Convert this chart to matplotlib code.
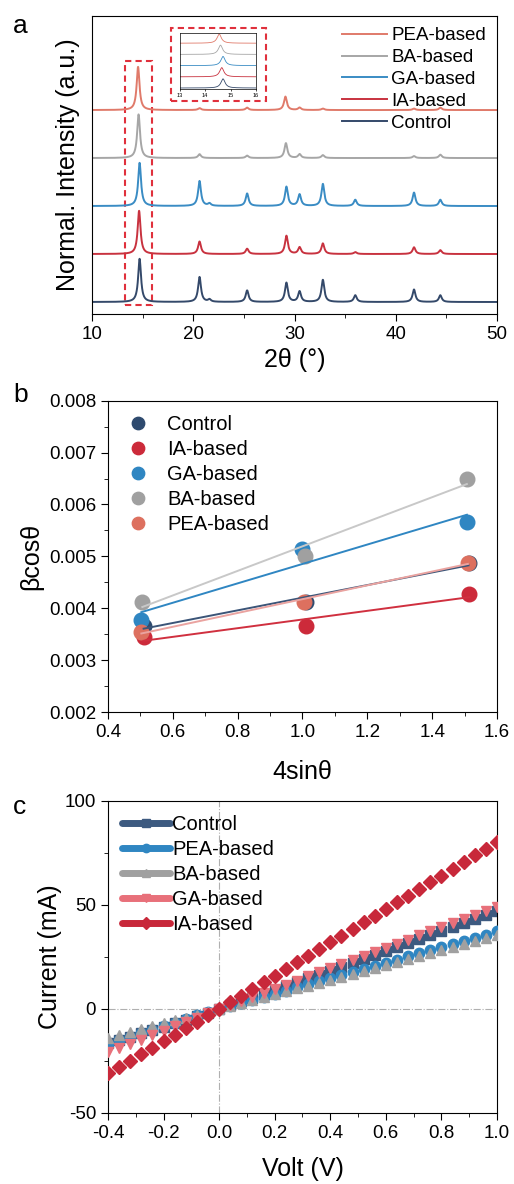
import numpy as np
import matplotlib
matplotlib.use('Agg')
import matplotlib.pyplot as plt
from matplotlib.lines import Line2D
from matplotlib.patches import Rectangle
from matplotlib.ticker import MultipleLocator, FormatStrFormatter

plt.rcParams['font.family'] = ['Liberation Sans', 'DejaVu Sans']

#------------------------------------------------------------------------
# Data
# (a) XRD: peak positions (deg) and heights (normalised) per sample
names_a = ['Control', 'IA-based', 'GA-based', 'BA-based', 'PEA-based']
colors_a = ['#34496a', '#c8323f', '#3a8cc4', '#a6a6a6', '#e07a6a']
peaks_control = [14.70, 20.62, 21.60, 25.32, 29.20, 30.50, 32.80, 36.00, 41.80, 44.40]
hgt_control   = [0.90, 0.52, 0.05, 0.24, 0.40, 0.22, 0.46, 0.14, 0.26, 0.14]
peaks_ia      = [14.65, 20.62, 25.32, 29.20, 30.50, 32.80, 36.00, 41.80, 44.40]
hgt_ia        = [0.90, 0.26, 0.11, 0.38, 0.14, 0.22, 0.04, 0.14, 0.08]
peaks_ga      = [14.70, 20.62, 21.60, 25.32, 29.20, 30.50, 32.80, 36.00, 41.80, 44.40]
hgt_ga        = [0.90, 0.52, 0.05, 0.26, 0.40, 0.24, 0.46, 0.13, 0.28, 0.13]
peaks_ba      = [14.60, 20.62, 25.32, 29.15, 30.50, 32.80, 41.80, 44.40]
hgt_ba        = [0.91, 0.08, 0.05, 0.31, 0.08, 0.06, 0.04, 0.07]
peaks_pea     = [14.55, 20.62, 25.32, 29.10, 30.50, 32.80, 41.80, 44.40]
hgt_pea       = [0.90, 0.04, 0.05, 0.28, 0.05, 0.03, 0.03, 0.05]
peak_sets = [(peaks_control, hgt_control), (peaks_ia, hgt_ia), (peaks_ga, hgt_ga),
             (peaks_ba, hgt_ba), (peaks_pea, hgt_pea)]

# (b) Williamson-Hall
names_b = ['Control', 'IA-based', 'GA-based', 'BA-based', 'PEA-based']
x_b = {'Control': [0.510, 1.011, 1.512],
       'IA-based': [0.510, 1.011, 1.515],
       'GA-based': [0.503, 1.000, 1.507],
       'BA-based': [0.506, 1.008, 1.507],
       'PEA-based': [0.503, 1.005, 1.510]}
y_b = {'Control': [0.00365, 0.00413, 0.00487],
       'IA-based': [0.00344, 0.00366, 0.00428],
       'GA-based': [0.00378, 0.00514, 0.00566],
       'BA-based': [0.00413, 0.00500, 0.00650],
       'PEA-based': [0.00354, 0.00413, 0.00488]}
colors_b = ['#2e4a6e', '#cc2a3a', '#2f86c2', '#a0a0a0', '#dd705f']
line_colors_b = ['#3b5578', '#d0303f', '#2f86c2', '#c8c8c8', '#eaa3a0']

# (c) I-V
volt = [-0.40, -0.36, -0.32, -0.28, -0.24, -0.20, -0.16, -0.12, -0.08, -0.04,
        0.00, 0.04, 0.08, 0.12, 0.16, 0.20, 0.24, 0.28, 0.32, 0.36,
        0.40, 0.44, 0.48, 0.52, 0.56, 0.60, 0.64, 0.68, 0.72, 0.76,
        0.80, 0.84, 0.88, 0.92, 0.96, 1.00]
cur_control = [-16.5, -15.0, -13.4, -11.8, -10.2, -8.6, -6.9, -5.2, -3.5, -1.8,
               0.0, 1.8, 3.6, 5.4, 7.2, 9.1, 10.9, 12.8, 14.7, 16.5,
               18.4, 20.3, 22.1, 24.0, 25.9, 27.8, 29.7, 31.6, 33.5, 35.4,
               37.3, 39.2, 41.1, 43.1, 45.0, 46.9]
cur_pea = [-16.8, -15.1, -13.4, -11.7, -10.0, -8.3, -6.6, -4.9, -3.2, -1.6,
           0.0, 1.5, 2.9, 4.4, 5.9, 7.3, 8.8, 10.3, 11.8, 13.3,
           14.8, 16.2, 17.7, 19.2, 20.7, 22.2, 23.7, 25.2, 26.7, 28.2,
           29.7, 31.2, 32.7, 34.2, 35.7, 37.2]
cur_ba = [-14.0, -12.6, -11.2, -9.8, -8.4, -7.0, -5.6, -4.2, -2.8, -1.4,
          0.0, 1.4, 2.8, 4.2, 5.6, 7.0, 8.4, 9.8, 11.2, 12.6,
          14.0, 15.4, 16.9, 18.3, 19.7, 21.1, 22.5, 24.0, 25.4, 26.8,
          28.3, 29.7, 31.2, 32.6, 34.1, 35.5]
cur_ga = [-21.0, -19.0, -16.9, -14.8, -12.7, -10.6, -8.5, -6.4, -4.3, -2.1,
          0.0, 1.9, 3.8, 5.8, 7.7, 9.7, 11.6, 13.6, 15.6, 17.5,
          19.5, 21.5, 23.4, 25.4, 27.4, 29.4, 31.4, 33.3, 35.3, 37.3,
          39.3, 41.3, 43.2, 45.2, 47.2, 49.2]
cur_ia = [-31.0, -28.0, -24.9, -21.8, -18.7, -15.6, -12.5, -9.4, -6.3, -3.1,
          0.0, 3.2, 6.4, 9.6, 12.8, 16.0, 19.2, 22.4, 25.6, 28.8,
          32.0, 35.2, 38.4, 41.6, 44.8, 48.0, 51.2, 54.4, 57.6, 60.9,
          64.1, 67.3, 70.6, 73.8, 77.1, 80.3]
names_c = ['Control', 'PEA-based', 'BA-based', 'GA-based', 'IA-based']
series_c = [cur_control, cur_pea, cur_ba, cur_ga, cur_ia]
colors_c = ['#3d5a80', '#2f86c2', '#a0a0a0', '#e8707a', '#c8283a']
markers_c = ['s', 'o', '^', 'v', 'D']


def profile(x, pos, hgt, w=0.17):
  # lorentzian peak shape built from the read peak list
  y = np.zeros_like(x)
  for p, h in zip(pos, hgt):
    y += h / (1.0 + ((x - p) / w) ** 2)
  return y


def style_ticks(ax):
  ax.tick_params(which='both', direction='out', labelsize=13.5)
  ax.tick_params(which='major', length=5)
  ax.tick_params(which='minor', length=3)


#-----------------------------plotting-----------------------------------
fig = plt.figure(figsize=(5.14, 11.84), dpi=100)

# ---- panel a
ax1 = fig.add_axes([0.179, 0.7348, 0.788, 0.2517])
tt = np.linspace(10, 50, 4000)
for k, (pos, hgt) in enumerate(peak_sets):
  ax1.plot(tt, profile(tt, pos, hgt) + k, color=colors_a[k], lw=1.4, label=names_a[k])
ax1.set_xlim(10, 50)
ax1.set_ylim(-0.25, 5.96)
ax1.set_yticks([])
ax1.xaxis.set_minor_locator(MultipleLocator(5))
style_ticks(ax1)
ax1.set_xlabel('2θ (°)', fontsize=18, labelpad=4)
ax1.set_ylabel('Normal. Intensity (a.u.)', fontsize=18, labelpad=9)
h, l = ax1.get_legend_handles_labels()
ax1.legend(h[::-1], l[::-1], loc='upper right', frameon=False, fontsize=13.5,
           handlelength=2.4, handletextpad=0.2, labelspacing=0.25,
           borderaxespad=0.2, bbox_to_anchor=(1.0, 1.0))
ax1.add_patch(Rectangle((13.28, -0.06), 2.65, 5.08, fill=False, ec='#e0303c',
                        lw=1.5, ls=(0, (3, 2))))

# inset
axin = fig.add_axes([0.350, 0.9248, 0.148, 0.0473])
ti = np.linspace(13, 16, 600)
for k, (pos, hgt) in enumerate(peak_sets):
  axin.plot(ti, 0.2 * profile(ti, pos, hgt, w=0.1) + k * 0.22, color=colors_a[k], lw=0.6)
axin.set_xlim(13, 16)
axin.set_ylim(-0.02, 1.08)
axin.set_yticks([])
axin.set_xticks([13, 14, 15, 16])
axin.tick_params(axis='x', labelsize=4, length=1.5, width=0.5, pad=1)
for s in axin.spines.values():
  s.set_linewidth(0.5)
fig.add_artist(Rectangle((0.3327, 0.9147), 0.1848, 0.0617, transform=fig.transFigure,
                         fill=False, ec='#e0303c', lw=1.5, ls=(0, (3, 2))))
fig.text(0.025, 0.978, 'a', fontsize=19, ha='left', va='center')

# ---- panel b
ax2 = fig.add_axes([0.210, 0.3986, 0.757, 0.263])
for k, nm in enumerate(names_b):
  ax2.plot(x_b[nm], y_b[nm], 'o', color=colors_b[k], ms=10.5, label=nm, zorder=3)
for k, nm in enumerate(names_b):
  xs = np.array(x_b[nm])
  ys = np.array(y_b[nm])
  cc = np.polyfit(xs, ys, 1)
  xf = np.array([xs[0], xs[-1]])
  ax2.plot(xf, np.polyval(cc, xf), '-', color=line_colors_b[k], lw=1.4, zorder=4)
ax2.set_xlim(0.4, 1.6)
ax2.set_ylim(0.002, 0.008)
ax2.xaxis.set_major_locator(MultipleLocator(0.2))
ax2.xaxis.set_minor_locator(MultipleLocator(0.1))
ax2.yaxis.set_major_locator(MultipleLocator(0.001))
ax2.yaxis.set_minor_locator(MultipleLocator(0.0005))
ax2.yaxis.set_major_formatter(FormatStrFormatter('%.3f'))
ax2.xaxis.set_major_formatter(FormatStrFormatter('%.1f'))
style_ticks(ax2)
ax2.set_xlabel('4sinθ', fontsize=18, labelpad=14)
ax2.set_ylabel('βcosθ', fontsize=18, labelpad=4)
ax2.legend(loc='upper left', frameon=False, fontsize=14.5, handlelength=0.8,
           handletextpad=1.05, labelspacing=0.3, borderaxespad=0.3,
           markerscale=0.85, bbox_to_anchor=(0.02, 1.0))
fig.text(0.025, 0.666, 'b', fontsize=19, ha='left', va='center')

# ---- panel c
ax3 = fig.add_axes([0.210, 0.0602, 0.757, 0.2633])
ax3.axvline(0, color='#b0b0b0', lw=0.8, ls='-.', zorder=0)
ax3.axhline(0, color='#b0b0b0', lw=0.8, ls='-.', zorder=0)
handles = []
for k, nm in enumerate(names_c):
  ax3.plot(volt, series_c[k], ls='none', marker=markers_c[k], ms=7.5,
           color=colors_c[k], mec=colors_c[k], zorder=2 + k)
  handles.append(Line2D([], [], color=colors_c[k], lw=5, solid_capstyle='round',
                        marker=markers_c[k], ms=6, label=nm))
ax3.set_xlim(-0.4, 1.0)
ax3.set_ylim(-50, 100)
ax3.xaxis.set_major_locator(MultipleLocator(0.2))
ax3.xaxis.set_minor_locator(MultipleLocator(0.1))
ax3.yaxis.set_major_locator(MultipleLocator(50))
ax3.yaxis.set_minor_locator(MultipleLocator(25))
ax3.xaxis.set_major_formatter(FormatStrFormatter('%.1f'))
ax3.yaxis.set_major_formatter(FormatStrFormatter('%d'))
style_ticks(ax3)
ax3.set_xlabel('Volt (V)', fontsize=18, labelpad=11)
ax3.set_ylabel('Current (mA)', fontsize=18, labelpad=2)
ax3.legend(handles=handles, loc='upper left', frameon=False, fontsize=14.5,
           handlelength=2.4, handletextpad=0.1, labelspacing=0.3,
           borderaxespad=0.3, bbox_to_anchor=(0.0, 1.0))
fig.text(0.025, 0.318, 'c', fontsize=19, ha='left', va='center')

fig.savefig('out.png', dpi=100)
